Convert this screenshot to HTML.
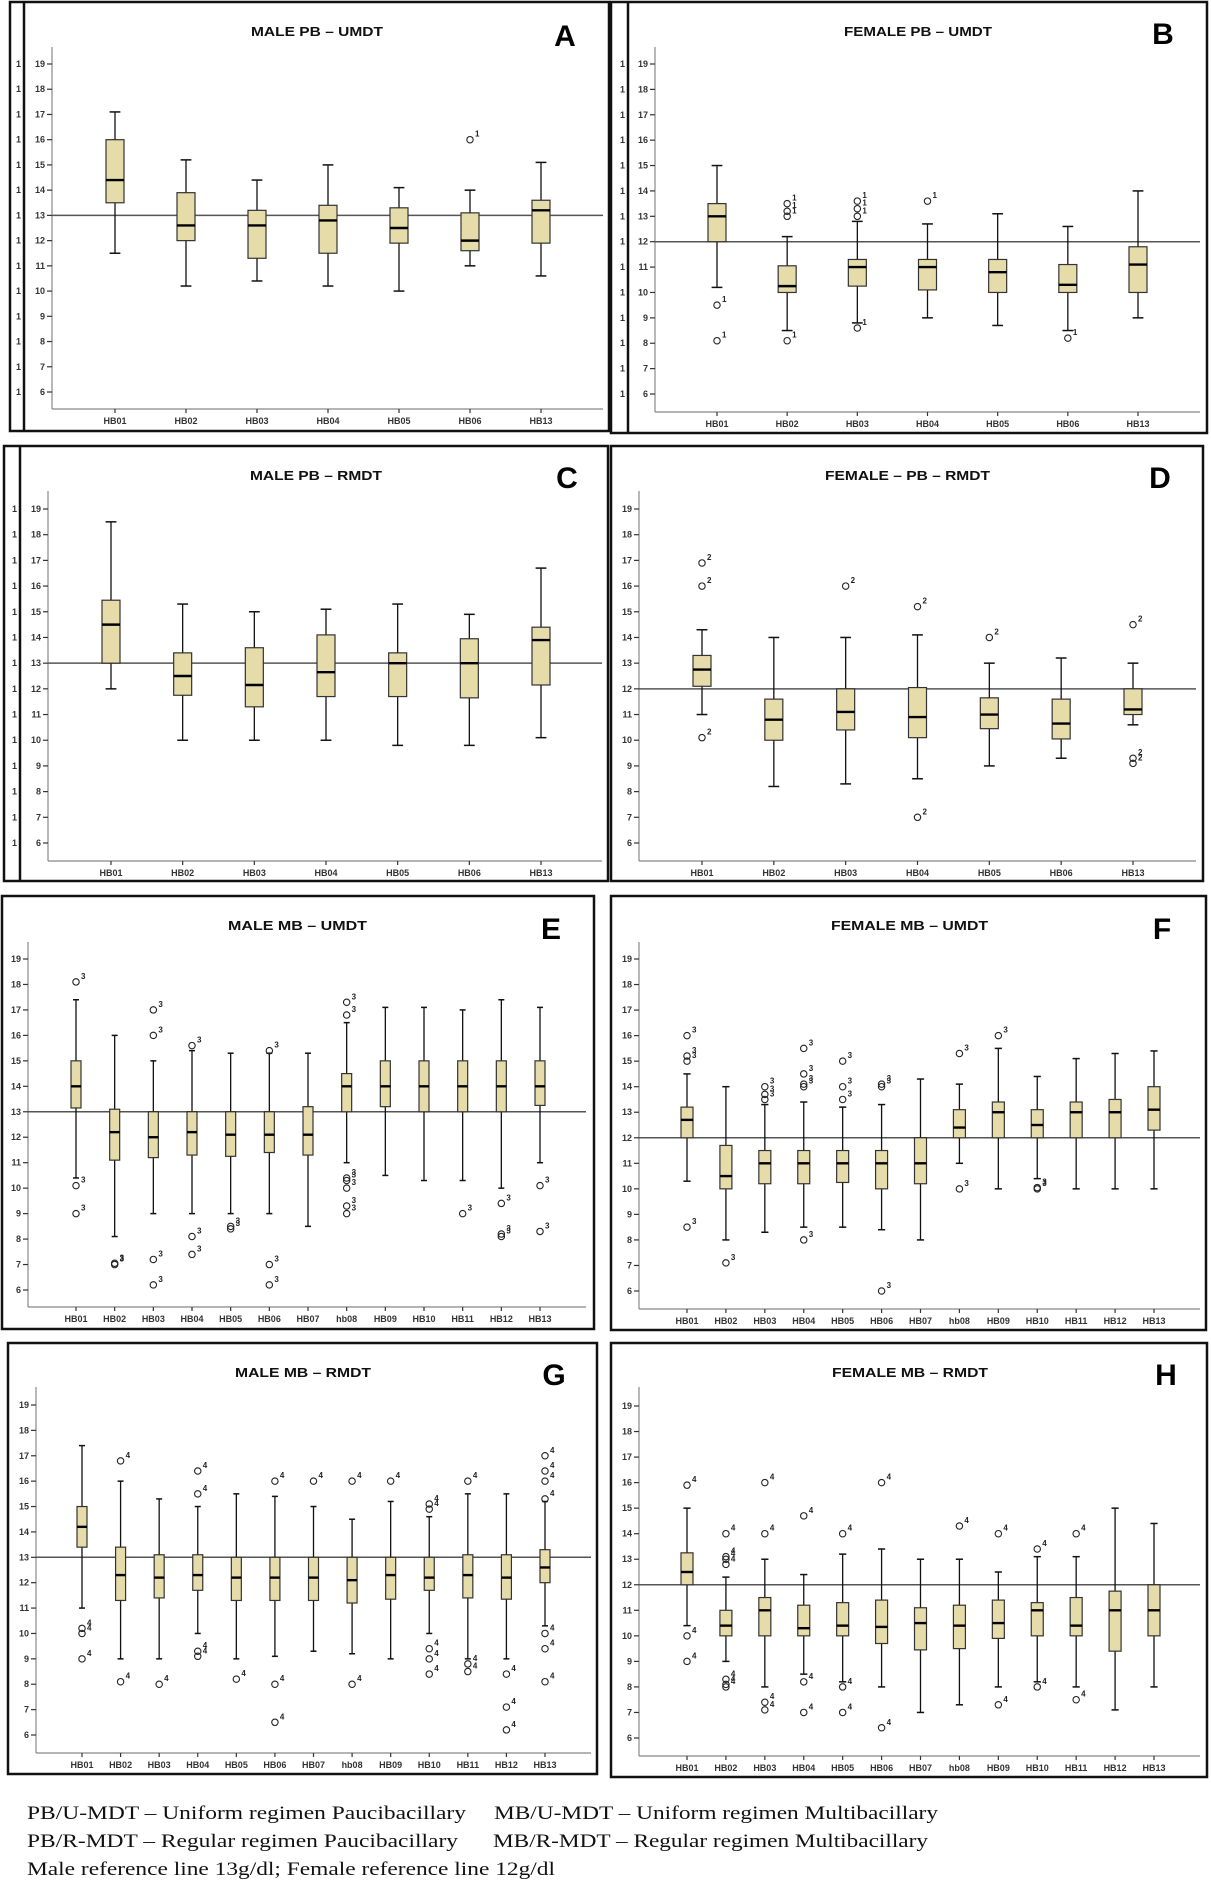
<!DOCTYPE html>
<html><head><meta charset="utf-8"><style>
html,body{margin:0;padding:0;background:#fff;}
svg{display:block;}
text{font-family:"Liberation Sans",sans-serif;}
</style></head><body>
<svg id="fig" width="1211" height="1894" viewBox="0 0 1211 1894" xmlns="http://www.w3.org/2000/svg">
<g font-family="Liberation Serif, serif" font-size="19" fill="#111">
<text x="27" y="1819" textLength="439" lengthAdjust="spacingAndGlyphs" style="font-family:'Liberation Serif',serif">PB/U-MDT – Uniform regimen Paucibacillary</text>
<text x="494" y="1819" textLength="444" lengthAdjust="spacingAndGlyphs" style="font-family:'Liberation Serif',serif">MB/U-MDT – Uniform regimen Multibacillary</text>
<text x="27" y="1847" textLength="431" lengthAdjust="spacingAndGlyphs" style="font-family:'Liberation Serif',serif">PB/R-MDT – Regular regimen Paucibacillary</text>
<text x="493" y="1847" textLength="435" lengthAdjust="spacingAndGlyphs" style="font-family:'Liberation Serif',serif">MB/R-MDT – Regular regimen Multibacillary</text>
<text x="27" y="1875" textLength="528" lengthAdjust="spacingAndGlyphs" style="font-family:'Liberation Serif',serif">Male reference line 13g/dl; Female reference line 12g/dl</text>
</g>
</svg>
<script>
// ---- data ----
const catsPB = ["HB01","HB02","HB03","HB04","HB05","HB06","HB13"];
const catsMB = ["HB01","HB02","HB03","HB04","HB05","HB06","HB07","hb08","HB09","HB10","HB11","HB12","HB13"];
const yTicks = [6,7,8,9,10,11,12,13,14,15,16,17,18,19];

const aLo=[11.5,10.2,10.4,10.2,10,11,10.6];
const aQ1=[13.5,12,11.3,11.5,11.9,11.6,11.9];
const aMed=[14.4,12.6,12.6,12.8,12.5,12,13.2];
const aQ3=[16,13.9,13.2,13.4,13.3,13.1,13.6];
const aHi=[17.1,15.2,14.4,15,14.1,14,15.1];
const aOut=[[5,16]];

const bLo=[10.2,8.5,8.8,9,8.7,8.5,9];
const bQ1=[12,10,10.25,10.1,10,10,10];
const bMed=[13,10.25,11,11,10.8,10.3,11.1];
const bQ3=[13.5,11.05,11.3,11.3,11.3,11.1,11.8];
const bHi=[15,12.2,12.8,12.7,13.1,12.6,14];
const bOut=[[0,9.5],[0,8.1],[1,13.5],[1,13.2],[1,13.0],[1,8.1],[2,13.6],[2,13.3],[2,13.0],[2,8.6],[3,13.6],[5,8.2]];

const cLo=[12,10,10,10,9.8,9.8,10.1];
const cQ1=[13,11.75,11.3,11.7,11.7,11.65,12.15];
const cMed=[14.5,12.5,12.15,12.65,13,13,13.9];
const cQ3=[15.45,13.4,13.6,14.1,13.4,13.95,14.4];
const cHi=[18.5,15.3,15,15.1,15.3,14.9,16.7];
const cOut=[];

const dLo=[11,8.2,8.3,8.5,9,9.3,10.6];
const dQ1=[12.1,10,10.4,10.1,10.45,10.05,11];
const dMed=[12.75,10.8,11.1,10.9,11,10.65,11.2];
const dQ3=[13.3,11.6,12,12.05,11.65,11.6,12];
const dHi=[14.3,14,14,14.1,13,13.2,13];
const dOut=[[0,16.9],[0,16],[0,10.1],[2,16],[3,15.2],[3,7],[4,14],[6,14.5],[6,9.3],[6,9.1]];

const eLo=[10.4,8.1,9,9,9,9,8.5,11,10.5,10.3,10.3,10,11];
const eQ1=[13.15,11.1,11.2,11.3,11.25,11.4,11.3,13,13.2,13,13,13,13.25];
const eMed=[14,12.2,12,12.2,12.1,12.1,12.1,14,14,14,14,14,14];
const eQ3=[15,13.1,13,13,13,13,13.2,14.5,15,15,15,15,15];
const eHi=[17.4,16,15,15.4,15.3,15.3,15.3,16.5,17.1,17.1,17,17.4,17.1];
const eOut=[[0,18.1],[0,10.1],[0,9],[1,7.05],[1,7.0],[2,17],[2,16],[2,7.2],[2,6.2],[3,15.6],[3,8.1],[3,7.4],[4,8.5],[4,8.4],[5,15.4],[5,7],[5,6.2],[7,17.3],[7,16.8],[7,10.4],[7,10.3],[7,10],[7,9.3],[7,9],[10,9],[11,9.4],[11,8.2],[11,8.1],[12,10.1],[12,8.3]];

const fLo=[10.3,8,8.3,8.5,8.5,8.4,8,11,10,10.4,10,10,10];
const fQ1=[12,10,10.2,10.2,10.25,10,10.2,12,12,12,12,12,12.3];
const fMed=[12.7,10.5,11,11,11,11,11,12.4,13,12.5,13,13,13.1];
const fQ3=[13.2,11.7,11.5,11.5,11.5,11.5,12,13.1,13.4,13.1,13.4,13.5,14];
const fHi=[14.5,14,13.3,13.4,13.2,13.3,14.3,14.1,15.5,14.4,15.1,15.3,15.4];
const fOut=[[0,16],[0,15.2],[0,15],[0,8.5],[1,7.1],[2,14],[2,13.7],[2,13.5],[3,15.5],[3,14.5],[3,14.1],[3,14],[3,8],[4,15],[4,14],[4,13.5],[5,14.1],[5,14],[5,6],[7,15.3],[7,10],[8,16],[9,10],[9,10.05]];

const gLo=[11,9,9,10,9,9.1,9.3,9.2,9,10,9,9,10.3];
const gQ1=[13.4,11.3,11.4,11.7,11.3,11.3,11.3,11.2,11.35,11.7,11.4,11.35,12];
const gMed=[14.2,12.3,12.2,12.3,12.2,12.2,12.2,12.1,12.3,12.2,12.3,12.2,12.6];
const gQ3=[15,13.4,13.1,13.1,13,13,13,13,13,13,13.1,13.1,13.3];
const gHi=[17.4,16,15.3,15,15.5,15.4,15,14.5,15.2,14.6,15.5,15.5,15.2];
const gOut=[[0,10.2],[0,10],[0,9],[1,16.8],[1,8.1],[2,8],[3,16.4],[3,15.5],[3,9.3],[3,9.1],[4,8.2],[5,16],[5,8],[5,6.5],[6,16],[7,16],[7,8],[8,16],[9,15.1],[9,14.9],[9,9.4],[9,9],[9,8.4],[10,16],[10,8.8],[10,8.5],[11,8.4],[11,7.1],[11,6.2],[12,17],[12,16.4],[12,16],[12,15.3],[12,10],[12,9.4],[12,8.1]];

const hLo=[10.4,9,8,8.5,8.2,8,7,7.3,8,8.2,8,7.1,8];
const hQ1=[12,10,10,10,10,9.7,9.45,9.5,9.9,10,10,9.4,10];
const hMed=[12.5,10.4,11,10.3,10.4,10.35,10.5,10.4,10.5,11,10.4,11,11];
const hQ3=[13.25,11,11.5,11.2,11.3,11.4,11.1,11.2,11.4,11.3,11.5,11.75,12];
const hHi=[15,12.3,13,12.4,13.2,13.4,13,13,12.5,13.1,13.1,15,14.4];
const hOut=[[0,15.9],[0,10],[0,9],[1,14],[1,13.1],[1,13],[1,12.8],[1,8.3],[1,8.1],[1,8],[2,16],[2,14],[2,7.4],[2,7.1],[3,14.7],[3,8.2],[3,7],[4,14],[4,8],[4,7],[5,16],[5,6.4],[7,14.3],[8,14],[8,7.3],[9,13.4],[9,8],[10,14],[10,7.5]];

// ---- layout ----
const panels = [
 {id:"a",title:"MALE PB – UMDT",label:"A",cats:catsPB,lo:aLo,q1:aQ1,med:aMed,q3:aQ3,hi:aHi,out:aOut,ref:13,tag:"1",
  box:[10,2,609,431],inner:24,ax:52,top:47,y19:64,y6:392,xy:409,xr:603,c0:115,c1:541,bw:18,tx:[251,383],ty:36,lx:565,ly:46,clip:true},
 {id:"b",title:"FEMALE PB – UMDT",label:"B",cats:catsPB,lo:bLo,q1:bQ1,med:bMed,q3:bQ3,hi:bHi,out:bOut,ref:12,tag:"1",
  box:[611,2,1207,433],inner:628,ax:655,top:47,y19:64,y6:394,xy:412,xr:1200,c0:717,c1:1138,bw:18,tx:[844,992],ty:36,lx:1163,ly:44,clip:true},
 {id:"c",title:"MALE PB – RMDT",label:"C",cats:catsPB,lo:cLo,q1:cQ1,med:cMed,q3:cQ3,hi:cHi,out:cOut,ref:13,tag:"2",
  box:[4,446,608,881],inner:20,ax:48,top:491,y19:509,y6:843,xy:861,xr:602,c0:111,c1:541,bw:18,tx:[250,382],ty:480,lx:567,ly:488,clip:true},
 {id:"d",title:"FEMALE – PB – RMDT",label:"D",cats:catsPB,lo:dLo,q1:dQ1,med:dMed,q3:dQ3,hi:dHi,out:dOut,ref:12,tag:"2",
  box:[611,446,1203,881],inner:null,ax:639,top:491,y19:509,y6:843,xy:861,xr:1196,c0:702,c1:1133,bw:18,tx:[825,990],ty:480,lx:1160,ly:488},
 {id:"e",title:"MALE MB – UMDT",label:"E",cats:catsMB,lo:eLo,q1:eQ1,med:eMed,q3:eQ3,hi:eHi,out:eOut,ref:13,tag:"3",
  box:[2,896,594,1329],inner:null,ax:28,top:942,y19:959,y6:1290,xy:1307,xr:586,c0:76,c1:540,bw:10,tx:[228,367],ty:930,lx:551,ly:939},
 {id:"f",title:"FEMALE MB – UMDT",label:"F",cats:catsMB,lo:fLo,q1:fQ1,med:fMed,q3:fQ3,hi:fHi,out:fOut,ref:12,tag:"3",
  box:[611,896,1206,1330],inner:null,ax:639,top:942,y19:959,y6:1291,xy:1309,xr:1200,c0:687,c1:1154,bw:12,tx:[831,988],ty:930,lx:1162,ly:939},
 {id:"g",title:"MALE MB – RMDT",label:"G",cats:catsMB,lo:gLo,q1:gQ1,med:gMed,q3:gQ3,hi:gHi,out:gOut,ref:13,tag:"4",
  box:[8,1343,597,1774],inner:null,ax:36,top:1387,y19:1405,y6:1735,xy:1753,xr:591,c0:82,c1:545,bw:10,tx:[235,371],ty:1377,lx:554,ly:1385},
 {id:"h",title:"FEMALE MB – RMDT",label:"H",cats:catsMB,lo:hLo,q1:hQ1,med:hMed,q3:hQ3,hi:hHi,out:hOut,ref:12,tag:"4",
  box:[611,1343,1207,1777],inner:null,ax:639,top:1387,y19:1406,y6:1738,xy:1756,xr:1200,c0:687,c1:1154,bw:12,tx:[832,988],ty:1377,lx:1166,ly:1385}
];

const NS="http://www.w3.org/2000/svg";
const svg=document.getElementById("fig");
function mk(tag,attrs,parent){const e=document.createElementNS(NS,tag);for(const k in attrs)e.setAttribute(k,attrs[k]);parent.appendChild(e);return e;}

panels.forEach(p=>{
  const g=mk("g",{},svg);
  
  
  const yS=v=>p.y19+(19-v)*(p.y6-p.y19)/13;
  const xS=i=>p.c0+i*(p.c1-p.c0)/(p.cats.length-1);
  const [x0,y0,x1,y1]=p.box;
  const fr=mk("rect",{x:x0,y:y0,width:x1-x0,height:y1-y0,fill:"#fff",stroke:"#111","stroke-width":2.5},g);
  
  
  if(p.inner!==null){
    const il=mk("line",{x1:p.inner,y1:y0,x2:p.inner,y2:y1,stroke:"#111","stroke-width":2.5},g);
    
    
    yTicks.forEach(t=>{
      const ct=mk("text",{x:p.inner-3,y:yS(t)+3,"font-size":9,"font-weight":"bold",fill:"#333","text-anchor":"end"},g);
      ct.textContent="1";
      
      
    });
  }
  const tt=mk("text",{x:p.tx[0],y:p.ty,"font-size":13,"font-weight":"bold",fill:"#111",textLength:p.tx[1]-p.tx[0],lengthAdjust:"spacingAndGlyphs"},g);
  tt.textContent=p.title;
  
  
  const lb=mk("text",{x:p.lx,y:p.ly,"font-size":30,"font-weight":"bold",fill:"#000","text-anchor":"middle"},g);
  lb.textContent=p.label;
  
  
  // axes
  const ya=mk("line",{x1:p.ax,y1:p.top,x2:p.ax,y2:p.xy,stroke:"#888","stroke-width":1.2},g);
  
  
  const xa=mk("line",{x1:p.ax,y1:p.xy,x2:p.xr,y2:p.xy,stroke:"#888","stroke-width":1.2},g);
  
  
  yTicks.forEach(t=>{
    const y=yS(t);
    const tk=mk("line",{x1:p.ax-5,y1:y,x2:p.ax,y2:y,stroke:"#333","stroke-width":1.2},g);
    
    
    const tl=mk("text",{x:p.ax-7,y:y+3,"font-size":9,"font-weight":"bold",fill:"#333","text-anchor":"end"},g);
    tl.textContent=t;
    
    
  });
  // reference line
  const rl=mk("line",{x1:p.ax,y1:yS(p.ref),x2:p.xr,y2:yS(p.ref),stroke:"#555","stroke-width":1.5},g);
  
  
  p.cats.forEach((c,i)=>{
    const x=xS(i);
    const xt=mk("line",{x1:x,y1:p.xy,x2:x,y2:p.xy+4,stroke:"#333","stroke-width":1.2},g);
    
    
    const xl=mk("text",{x:x,y:p.xy+15,"font-size":9,"font-weight":"bold",fill:"#333","text-anchor":"middle"},g);
    xl.textContent=c;
    
    
    const bx=mk("g",{},g);
    
    
    const cap=p.bw*0.3;
    mk("line",{x1:x,y1:yS(p.hi[i]),x2:x,y2:yS(p.lo[i]),stroke:"#111","stroke-width":1.3},bx);
    mk("line",{x1:x-cap,y1:yS(p.hi[i]),x2:x+cap,y2:yS(p.hi[i]),stroke:"#111","stroke-width":1.5},bx);
    mk("line",{x1:x-cap,y1:yS(p.lo[i]),x2:x+cap,y2:yS(p.lo[i]),stroke:"#111","stroke-width":1.5},bx);
    mk("rect",{x:x-p.bw/2,y:yS(p.q3[i]),width:p.bw,height:yS(p.q1[i])-yS(p.q3[i]),fill:"#e6dcaa",stroke:"#333","stroke-width":1.2},bx);
    mk("line",{x1:x-p.bw/2,y1:yS(p.med[i]),x2:x+p.bw/2,y2:yS(p.med[i]),stroke:"#000","stroke-width":2.4},bx);
  });
  p.out.forEach(o=>{
    const x=xS(o[0]),y=yS(o[1]);
    const c=mk("circle",{cx:x,cy:y,r:3.2,fill:"none",stroke:"#222","stroke-width":1.1},g);
    
    
    const t=mk("text",{x:x+5,y:y-3,"font-size":8,"font-weight":"bold",fill:"#222"},g);
    t.textContent=p.tag;
    
    
  });
});
</script>
</body></html>
